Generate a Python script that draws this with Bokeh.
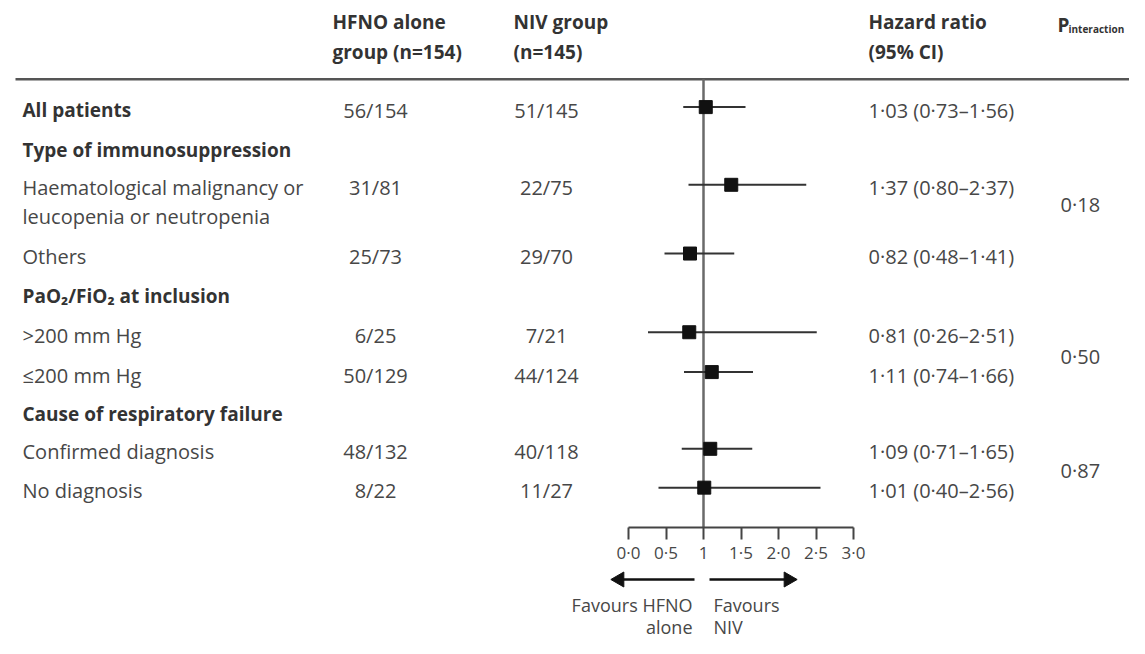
import math
from bokeh.plotting import figure
from bokeh.layouts import column
from bokeh.models import Range1d, LinearAxis, FixedTicker, ColumnDataSource
from bokeh.core.properties import value
from bokeh.embed import file_html
from bokeh.resources import INLINE

# ---------------- data ----------------
subgroups = ["All patients",
             "Haematological malignancy or\nleucopenia or neutropenia",
             "Others", ">200 mm Hg", "≤200 mm Hg",
             "Confirmed diagnosis", "No diagnosis"]
hfno_events = ["56/154", "31/81", "25/73", "6/25", "50/129", "48/132", "8/22"]
niv_events = ["51/145", "22/75", "29/70", "7/21", "44/124", "40/118", "11/27"]
hr = [1.03, 1.37, 0.82, 0.81, 1.11, 1.09, 1.01]
ci_low = [0.73, 0.80, 0.48, 0.26, 0.74, 0.71, 0.40]
ci_high = [1.56, 2.37, 1.41, 2.51, 1.66, 1.65, 2.56]
sections = ["Type of immunosuppression", "PaO₂/FiO₂ at inclusion", "Cause of respiratory failure"]
p_interaction = ["0·18", "0·50", "0·87"]
axis_ticks = [0, 0.5, 1, 1.5, 2, 2.5, 3]
axis_tick_labels = ["0·0", "0·5", "1", "1·5", "2·0", "2·5", "3·0"]

# ---------------- layout (picture pixels) ----------------
W = 1129
H1, H2 = 566, 72
FRAME_BOTTOM = 529
row_y = [110, 188, 257, 336, 376, 453, 492]
section_y = [150, 297, 415]
p_y = [205, 357, 472]
FONT = "Open Sans"
FS = "20px"
FS_BOLD = "19px"
TXT = "#474747"
DARK = "#333333"

def fmt(v):
    return f"{v:.2f}".replace(".", "·")

hr_text = [f"{fmt(h)} ({fmt(l)}–{fmt(u)})" for h, l, u in zip(hr, ci_low, ci_high)]

# x: hazard-ratio scale, picture x = 628 + 75*hr
X0, SCALE = 628, 75
p = figure(width=W, height=H1, output_backend="svg", toolbar_location=None,
           x_range=Range1d(-X0 / SCALE, (W - X0) / SCALE), y_range=Range1d(FRAME_BOTTOM, 0),
           x_axis_type=None, y_axis_type=None, min_border=0,
           min_border_bottom=H1 - FRAME_BOTTOM, outline_line_color=None)
p.extra_x_ranges = {"px": Range1d(0, W)}
p.grid.visible = False

def txt(fig, x, y, t, bold=False, size=None, align="left", color=None):
    fig.text(x=x, y=y, text=t, x_range_name="px", text_font=value(FONT),
             text_font_size=size or (FS_BOLD if bold else FS),
             text_font_style="bold" if bold else "normal",
             text_align=align, text_baseline="middle",
             text_color=color or (DARK if bold else TXT))

# header
txt(p, [332, 332], [22, 52], ["HFNO alone", "group (n=154)"], bold=True)
txt(p, [513, 513], [22, 52], ["NIV group", "(n=145)"], bold=True)
txt(p, [868, 868], [22, 52], ["Hazard ratio", "(95% CI)"], bold=True)
txt(p, [1057], [25], ["P"], bold=True)
txt(p, [1068], [29], ["interaction"], bold=True, size="10px")

p.segment(x0=[15], x1=[1135], y0=[79], y1=[79], x_range_name="px",
          line_color="#555555", line_width=2.5)

# reference line at HR = 1
p.segment(x0=[1], x1=[1], y0=[79], y1=[FRAME_BOTTOM], line_color="#6a6a6a", line_width=2.5)

# row labels
lab_x, lab_y, lab_t = [], [], []
for s, y in zip(subgroups, row_y):
    for k, line in enumerate(s.split("\n")):
        lab_x.append(22); lab_y.append(y + 29 * k); lab_t.append(line)
txt(p, lab_x[:1], lab_y[:1], lab_t[:1], bold=True)
txt(p, lab_x[1:], lab_y[1:], lab_t[1:])
txt(p, [22] * len(sections), section_y, sections, bold=True)

# event columns
txt(p, [375] * len(hfno_events), row_y, hfno_events, align="center")
txt(p, [546] * len(niv_events), row_y, niv_events, align="center")
txt(p, [868] * len(hr_text), row_y, hr_text)
txt(p, [1060] * len(p_interaction), p_y, p_interaction)

# CIs and points
src = ColumnDataSource(dict(hr=hr, lo=ci_low, hi=ci_high, y=[y - 3 for y in row_y]))
p.segment(x0="lo", x1="hi", y0="y", y1="y", source=src, line_color="#333333", line_width=2)
p.scatter(x="hr", y="y", source=src, marker="square", size=13,
          fill_color="#111111", line_color="#111111")

# axis
ax = LinearAxis(ticker=FixedTicker(ticks=axis_ticks), bounds=(0, 3),
                major_label_overrides={t: l for t, l in zip(axis_ticks, axis_tick_labels)},
                major_tick_in=0, major_tick_out=12, minor_tick_out=0, minor_tick_in=0,
                axis_line_width=2, axis_line_color="#444444",
                major_tick_line_width=2, major_tick_line_color="#444444",
                major_label_standoff=1, major_label_text_font=FONT,
                major_label_text_font_size="17px", major_label_text_color=TXT)
p.add_layout(ax, "below")

# ---------------- favours panel ----------------
q = figure(width=W, height=H2, output_backend="svg", toolbar_location=None,
           x_range=Range1d(0, W), y_range=Range1d(H1 + H2, H1),
           x_axis_type=None, y_axis_type=None, min_border=0, outline_line_color=None)
q.extra_x_ranges = {"px": Range1d(0, W)}
q.grid.visible = False
ARROW_Y = 579
q.segment(x0=[694, 709], x1=[622, 785], y0=[ARROW_Y, ARROW_Y], y1=[ARROW_Y, ARROW_Y],
          line_color="#111111", line_width=2.5)
q.scatter(x=[619, 788], y=[ARROW_Y, ARROW_Y], marker="triangle", size=15,
          angle=[math.pi / 2, -math.pi / 2], fill_color="#111111", line_color="#111111")
txt(q, [692, 692], [604, 626], ["Favours HFNO", "alone"], align="right", size="18px")
txt(q, [713, 713], [604, 626], ["Favours", "NIV"], align="left", size="18px")

layout = column(p, q, spacing=0)
open("out.html", "w").write(file_html(layout, INLINE))
